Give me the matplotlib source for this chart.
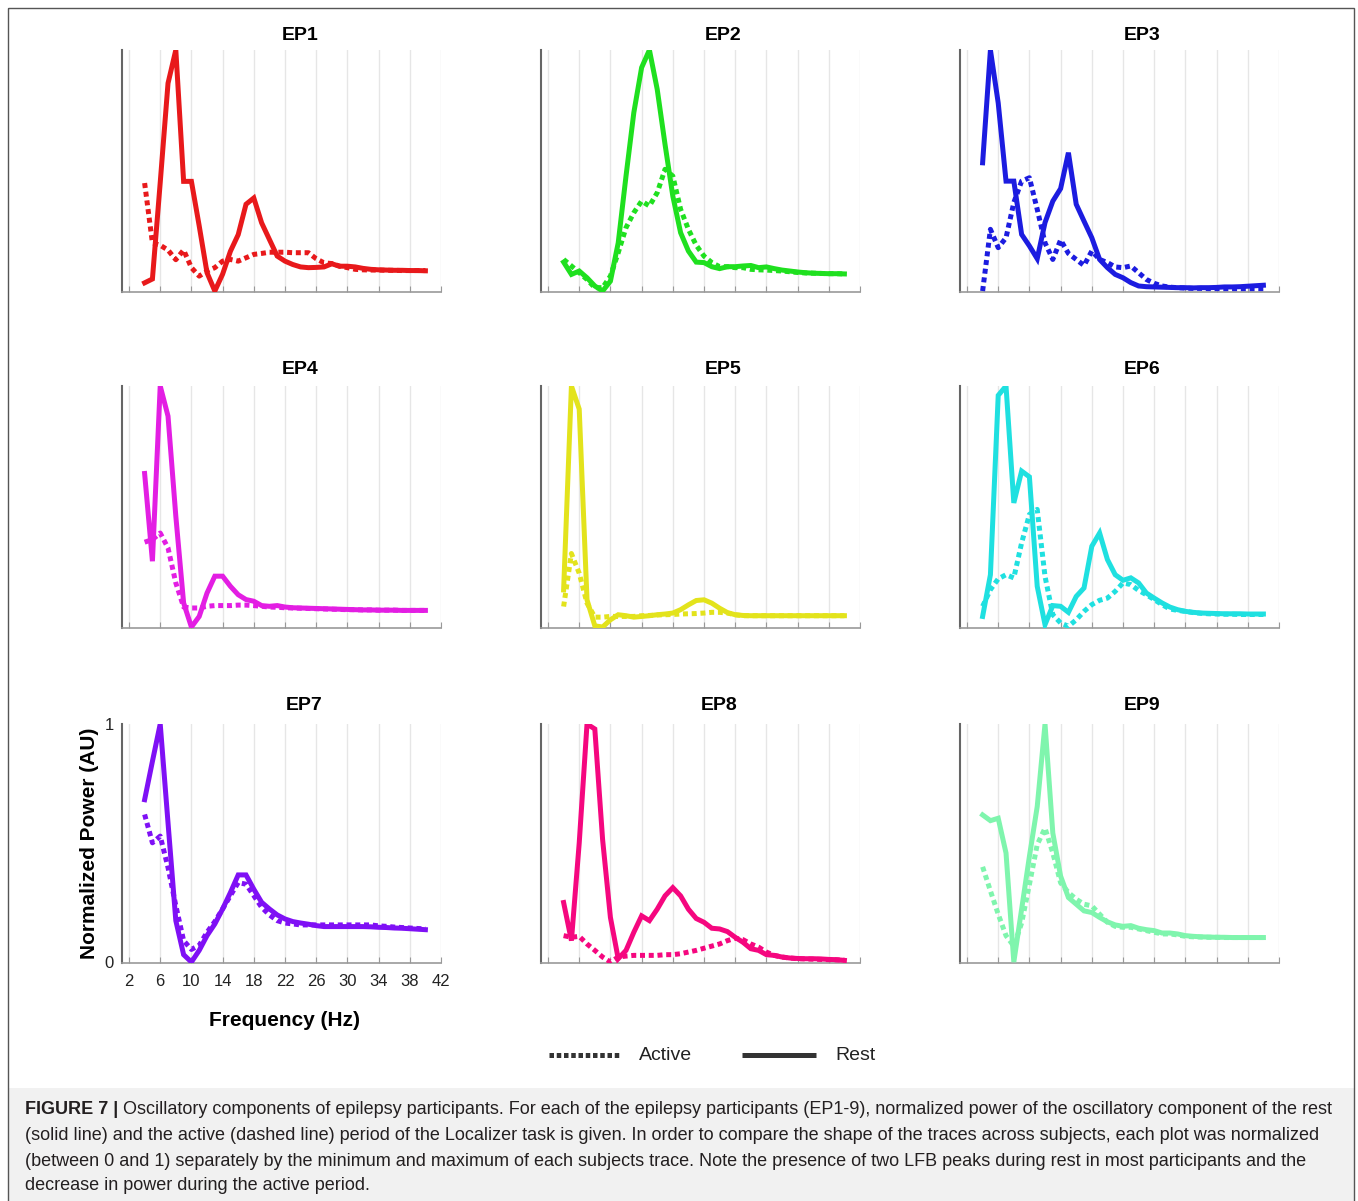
import matplotlib
matplotlib.use("Agg")
import matplotlib.pyplot as plt
from matplotlib.patches import Rectangle
import numpy as np

plt.rcParams['font.family'] = ['Liberation Sans', 'DejaVu Sans']

# frequencies (Hz) shared by every trace
freqs = list(range(4, 41))

# normalized power, rest (solid) and active (dotted)
ep1_rest = [0.034, 0.05, 0.45, 0.862, 1.0, 0.455, 0.455, 0.27, 0.076, 0.0, 0.07, 0.165, 0.234,
            0.36, 0.386, 0.283, 0.214, 0.145, 0.124, 0.11, 0.10, 0.097, 0.098, 0.10, 0.113,
            0.103, 0.103, 0.10, 0.094, 0.09, 0.088, 0.087, 0.086, 0.086, 0.085, 0.085, 0.084]
ep1_active = [0.448, 0.2, 0.19, 0.17, 0.13, 0.17, 0.097, 0.062, 0.083, 0.097, 0.124, 0.131,
              0.124, 0.138, 0.152, 0.156, 0.161, 0.161, 0.161, 0.159, 0.159, 0.159, 0.134,
              0.117, 0.114, 0.103, 0.097, 0.09, 0.088, 0.087, 0.087, 0.086, 0.086, 0.085,
              0.085, 0.085, 0.085]

ep2_rest = [0.12, 0.069, 0.083, 0.055, 0.021, 0.0, 0.041, 0.2, 0.477, 0.74, 0.927, 1.0, 0.837,
            0.609, 0.394, 0.242, 0.166, 0.12, 0.118, 0.101, 0.093, 0.101, 0.101, 0.104, 0.106,
            0.097, 0.1, 0.093, 0.087, 0.083, 0.079, 0.076, 0.074, 0.073, 0.072, 0.072, 0.071]
ep2_active = [0.131, 0.104, 0.076, 0.048, 0.014, 0.014, 0.062, 0.159, 0.263, 0.325, 0.373,
              0.353, 0.408, 0.505, 0.477, 0.339, 0.256, 0.19, 0.145, 0.118, 0.101, 0.101,
              0.097, 0.097, 0.09, 0.088, 0.087, 0.085, 0.083, 0.08, 0.077, 0.075, 0.074,
              0.073, 0.072, 0.072, 0.071]

ep3_rest = [0.532, 1.0, 0.78, 0.456, 0.456, 0.235, 0.187, 0.134, 0.284, 0.373, 0.425, 0.574,
            0.36, 0.29, 0.221, 0.131, 0.097, 0.069, 0.055, 0.035, 0.021, 0.018, 0.017, 0.016,
            0.015, 0.014, 0.014, 0.013, 0.014, 0.014, 0.015, 0.017, 0.017, 0.018, 0.02, 0.022,
            0.024]
ep3_active = [0.0, 0.256, 0.18, 0.221, 0.367, 0.456, 0.47, 0.339, 0.2, 0.131, 0.212, 0.156,
              0.131, 0.106, 0.166, 0.131, 0.118, 0.1, 0.097, 0.104, 0.076, 0.048, 0.032,
              0.021, 0.016, 0.014, 0.012, 0.011, 0.011, 0.01, 0.01, 0.01, 0.01, 0.01, 0.01,
              0.01, 0.01]

ep4_rest = [0.637, 0.273, 1.0, 0.875, 0.46, 0.1, 0.0, 0.044, 0.141, 0.211, 0.211, 0.169,
            0.134, 0.114, 0.107, 0.089, 0.086, 0.089, 0.083, 0.08, 0.079, 0.078, 0.077, 0.076,
            0.075, 0.074, 0.073, 0.072, 0.071, 0.071, 0.07, 0.07, 0.07, 0.069, 0.069, 0.069,
            0.069]
ep4_active = [0.352, 0.363, 0.39, 0.328, 0.183, 0.083, 0.079, 0.079, 0.086, 0.089, 0.089,
              0.089, 0.091, 0.091, 0.089, 0.086, 0.083, 0.082, 0.08, 0.079, 0.078, 0.077,
              0.076, 0.075, 0.074, 0.073, 0.072, 0.072, 0.071, 0.071, 0.07, 0.07, 0.07,
              0.069, 0.069, 0.069, 0.069]

ep5_rest = [0.154, 1.0, 0.904, 0.113, 0.005, 0.0, 0.03, 0.051, 0.047, 0.041, 0.044, 0.047,
            0.051, 0.054, 0.058, 0.072, 0.092, 0.11, 0.113, 0.099, 0.078, 0.06, 0.051, 0.048,
            0.047, 0.047, 0.047, 0.047, 0.047, 0.047, 0.047, 0.047, 0.047, 0.047, 0.047,
            0.047, 0.047]
ep5_active = [0.085, 0.305, 0.223, 0.099, 0.041, 0.041, 0.044, 0.044, 0.044, 0.044, 0.047,
              0.048, 0.05, 0.051, 0.052, 0.054, 0.055, 0.056, 0.058, 0.061, 0.061, 0.058,
              0.051, 0.047, 0.047, 0.047, 0.047, 0.047, 0.047, 0.047, 0.047, 0.047, 0.047,
              0.047, 0.047, 0.047, 0.047]

ep6_rest = [0.044, 0.217, 0.961, 1.0, 0.515, 0.647, 0.623, 0.169, 0.01, 0.089, 0.086, 0.061,
            0.127, 0.162, 0.335, 0.39, 0.28, 0.217, 0.194, 0.204, 0.183, 0.141, 0.12, 0.1,
            0.083, 0.072, 0.065, 0.061, 0.058, 0.057, 0.056, 0.055, 0.055, 0.055, 0.054,
            0.054, 0.054]
ep6_active = [0.086, 0.155, 0.2, 0.217, 0.204, 0.349, 0.467, 0.488, 0.21, 0.051, 0.017, 0.003,
              0.03, 0.065, 0.093, 0.111, 0.12, 0.148, 0.183, 0.176, 0.152, 0.134, 0.114,
              0.093, 0.075, 0.069, 0.065, 0.06, 0.057, 0.055, 0.054, 0.053, 0.053, 0.052,
              0.052, 0.052, 0.052]

ep7_rest = [0.682, 0.843, 1.0, 0.585, 0.174, 0.031, 0.0, 0.049, 0.111, 0.16, 0.223, 0.292,
            0.366, 0.366, 0.306, 0.251, 0.223, 0.198, 0.181, 0.17, 0.164, 0.159, 0.153, 0.149,
            0.149, 0.149, 0.149, 0.149, 0.149, 0.148, 0.146, 0.145, 0.143, 0.142, 0.14, 0.138,
            0.136]
ep7_active = [0.62, 0.501, 0.529, 0.397, 0.237, 0.09, 0.053, 0.07, 0.125, 0.17, 0.223, 0.279,
              0.334, 0.327, 0.279, 0.23, 0.198, 0.174, 0.164, 0.16, 0.156, 0.156, 0.156,
              0.156, 0.156, 0.156, 0.156, 0.156, 0.156, 0.156, 0.152, 0.15, 0.147, 0.145,
              0.143, 0.141, 0.139]

ep8_rest = [0.25, 0.09, 0.5, 1.0, 0.979, 0.514, 0.1875, 0.014, 0.049, 0.125, 0.194, 0.174,
            0.222, 0.278, 0.3125, 0.278, 0.222, 0.183, 0.167, 0.142, 0.139, 0.128, 0.104,
            0.083, 0.056, 0.049, 0.031, 0.028, 0.021, 0.017, 0.015, 0.014, 0.014, 0.013,
            0.011, 0.01, 0.007]
ep8_active = [0.111, 0.104, 0.108, 0.076, 0.049, 0.021, 0.0, 0.021, 0.025, 0.028, 0.028,
              0.028, 0.028, 0.031, 0.031, 0.035, 0.042, 0.049, 0.058, 0.067, 0.076, 0.09,
              0.1, 0.094, 0.076, 0.0625, 0.042, 0.028, 0.021, 0.017, 0.014, 0.013, 0.012,
              0.011, 0.01, 0.009, 0.008]

ep9_rest = [0.618, 0.594, 0.604, 0.458, 0.0, 0.222, 0.444, 0.653, 1.0, 0.542, 0.361, 0.271,
            0.243, 0.215, 0.208, 0.1875, 0.169, 0.156, 0.15, 0.153, 0.142, 0.136, 0.132,
            0.122, 0.122, 0.118, 0.111, 0.108, 0.106, 0.105, 0.104, 0.104, 0.103, 0.103,
            0.103, 0.103, 0.103]
ep9_active = [0.4, 0.299, 0.201, 0.111, 0.067, 0.164, 0.326, 0.493, 0.5625, 0.458, 0.333,
              0.292, 0.264, 0.243, 0.236, 0.201, 0.167, 0.15, 0.146, 0.146, 0.139, 0.132,
              0.125, 0.118, 0.118, 0.114, 0.108, 0.106, 0.105, 0.104, 0.104, 0.103, 0.103,
              0.103, 0.103, 0.103, 0.103]

names = ['EP1', 'EP2', 'EP3', 'EP4', 'EP5', 'EP6', 'EP7', 'EP8', 'EP9']
rest = [ep1_rest, ep2_rest, ep3_rest, ep4_rest, ep5_rest, ep6_rest, ep7_rest, ep8_rest, ep9_rest]
active = [ep1_active, ep2_active, ep3_active, ep4_active, ep5_active, ep6_active,
          ep7_active, ep8_active, ep9_active]
colors = ['#e8191b', '#1fe01f', '#1c1ce0', '#e31ee3', '#e3e31c', '#1fe0e0',
          '#7f10f5', '#f5077f', '#7ff5ad']
xticks = [2, 6, 10, 14, 18, 22, 26, 30, 34, 38, 42]

caption = [
    "Oscillatory components of epilepsy participants. For each of the epilepsy participants (EP1-9), normalized power of the oscillatory component of the rest",
    "(solid line) and the active (dashed line) period of the Localizer task is given. In order to compare the shape of the traces across subjects, each plot was normalized",
    "(between 0 and 1) separately by the minimum and maximum of each subjects trace. Note the presence of two LFB peaks during rest in most participants and the",
    "decrease in power during the active period.",
]

W, H = 1358, 1201
fig = plt.figure(figsize=(W / 100, H / 100), dpi=100)

# background layer in pixel coords: frame, caption box, legend, caption text
bg = fig.add_axes([0, 0, 1, 1])
bg.set_xlim(0, W)
bg.set_ylim(H, 0)
bg.axis('off')
bg.set_zorder(-1)
bg.add_patch(Rectangle((8, 1088), 1346, 120, facecolor='#f1f1f1', edgecolor='none'))
bg.add_patch(Rectangle((8, 8), 1346, 1200, facecolor='none', edgecolor='#555555', lw=1))

# panel geometry in pixels
col_left = [122, 541, 960]
row_top = [50, 386, 724]
row_bot = [292, 628, 963]
ax_w = 319
title_x = [300, 723, 1142, 300, 723, 1142, 304, 719, 1142]
title_y = [36, 369, 706]

dot_style = (0, (1.0, 0.75))

for i in range(9):
    r, c = divmod(i, 3)
    left = col_left[c] / W
    bottom = 1 - row_bot[r] / H
    height = (row_bot[r] - row_top[r]) / H
    ax = fig.add_axes([left, bottom, ax_w / W, height])
    ax.set_facecolor('none')

    ax.plot(freqs, active[i], color=colors[i], lw=3.6, linestyle=dot_style,
            dash_capstyle='butt', zorder=3)
    ax.plot(freqs, rest[i], color=colors[i], lw=3.6, solid_joinstyle='miter', zorder=4)

    ax.set_xlim(1.1, 42)
    ax.set_ylim(-0.004, 1.0)
    ax.set_xticks(xticks)
    ax.xaxis.grid(True, color='#e6e6e6', lw=1)
    ax.set_axisbelow(True)
    for s in ['top', 'right']:
        ax.spines[s].set_visible(False)
    ax.spines['left'].set_color('#666666')
    ax.spines['left'].set_linewidth(1.5)
    ax.spines['bottom'].set_color('#999999')
    ax.spines['bottom'].set_linewidth(1.2)
    ax.tick_params(axis='x', direction='in', length=4, color='#999999', labelsize=12,
                   labelcolor='#222222', pad=8)
    ax.tick_params(axis='y', length=0, labelsize=12, labelcolor='#222222', pad=6)

    if i == 6:
        ax.set_yticks([0, 1])
        ax.set_yticklabels(['0', '1'])
        ax.set_xlabel('Frequency (Hz)', fontsize=15, fontweight='bold', labelpad=15)
        ax.set_ylabel('Normalized Power (AU)', fontsize=15, fontweight='bold', labelpad=4)
        ax.xaxis.set_label_coords(0.51, -0.2)
    else:
        ax.set_yticks([])
        ax.set_xticklabels([])

    fig.text(title_x[i] / W, 1 - title_y[r] / H, names[i], fontsize=14,
             fontweight='bold', ha='center', va='center')

# legend
bg.plot([549, 620], [1055, 1055], color='#333333', lw=3.6, linestyle=(0, (0.9, 0.55)),
        dash_capstyle='butt')
bg.text(639, 1056, 'Active', fontsize=14, va='center', ha='left', color='#222222')
bg.plot([742, 816], [1055, 1055], color='#333333', lw=3.6, solid_capstyle='butt')
bg.text(835, 1056, 'Rest', fontsize=14, va='center', ha='left', color='#222222')

# caption
line_y = [1109, 1135, 1161, 1186]
lab = bg.text(25, line_y[0], 'FIGURE 7 | ', fontsize=13, fontweight='bold',
              va='center', ha='left', color='#231f20')
bg.annotate(caption[0], xy=(1, 0.5), xycoords=lab, va='center', ha='left',
            fontsize=13, color='#231f20')
for k in range(1, 4):
    bg.text(25, line_y[k], caption[k], fontsize=13, va='center', ha='left',
            color='#231f20')

fig.savefig('out.png', dpi=100)
